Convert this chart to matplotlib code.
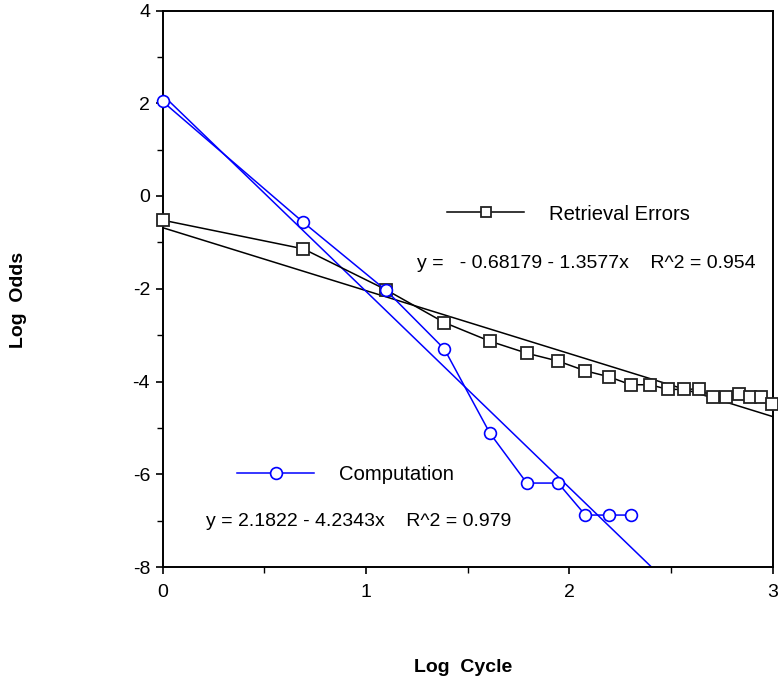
import numpy as np
import matplotlib
matplotlib.use("Agg")
import matplotlib.pyplot as plt

plt.rcParams['font.family'] = ['Liberation Sans', 'DejaVu Sans']
plt.rcParams['axes.unicode_minus'] = False

# Data (x = natural log of cycle number)
retrieval_cycles = list(range(1, 21))
retrieval_log_odds = [-0.52, -1.14, -2.02, -2.73, -3.13, -3.39, -3.56, -3.77, -3.90, -4.07,
                      -4.07, -4.17, -4.17, -4.16, -4.34, -4.34, -4.26, -4.34, -4.34, -4.49]
computation_cycles = list(range(1, 11))
computation_log_odds = [2.04, -0.57, -2.03, -3.30, -5.11, -6.19, -6.19, -6.88, -6.88, -6.88]

# Regression lines (intercept, slope)
retrieval_fit = (-0.68179, -1.3577)
computation_fit = (2.1822, -4.2343)

retrieval_label = "Retrieval Errors"
computation_label = "Computation"
retrieval_eq = "y =   - 0.68179 - 1.3577x    R^2 = 0.954"
computation_eq = "y = 2.1822 - 4.2343x    R^2 = 0.979"

fig = plt.figure(figsize=(7.78, 6.85), dpi=100)
W, H = 778, 685
L, R, T, B = 162.5, 772.5, 10.5, 567.0
ax = fig.add_axes([L / W, 1 - B / H, (R - L) / W, (B - T) / H])

xr = np.log(retrieval_cycles)
xc = np.log(computation_cycles)

# fit lines
xf = np.linspace(0, 3, 200)
ax.plot(xf, retrieval_fit[0] + retrieval_fit[1] * xf, color='black', lw=1.1, zorder=2)
ax.plot(xf, computation_fit[0] + computation_fit[1] * xf, color='#0000ff', lw=1.1, zorder=2)

# data lines
lr, = ax.plot(xr, retrieval_log_odds, color='black', lw=1.1, marker='s', markersize=9,
              markerfacecolor='white', markeredgecolor='#222222', markeredgewidth=1.3,
              clip_on=False, zorder=3)
lc, = ax.plot(xc, computation_log_odds, color='#0000ff', lw=1.1, marker='o', markersize=8.5,
              markerfacecolor='white', markeredgecolor='#0000ff', markeredgewidth=1.2,
              clip_on=False, zorder=4)

ax.set_xlim(0, 3)
ax.set_ylim(-8, 4)
ax.set_xticks([0, 1, 2, 3])
ax.set_xticks([0.5, 1.5, 2.5], minor=True)
ax.set_yticks([-8, -6, -4, -2, 0, 2, 4])
ax.set_yticks([-7, -5, -3, -1, 1, 3], minor=True)
ax.tick_params(which='major', direction='out', length=5, width=1.2, labelsize=14, pad=4)
ax.tick_params(axis='x', which='major', pad=7)
ax.tick_params(which='minor', direction='out', length=4, width=1.0)
for s in ax.spines.values():
    s.set_linewidth(1.4)

def px_to_ax(px, py):
    return ((px - L) / (R - L), (B - py) / (B - T))

leg1 = ax.legend(handles=[lr], labels=[retrieval_label], loc='center left',
                 bbox_to_anchor=px_to_ax(447, 214), frameon=False, fontsize=14.6,
                 handlelength=3.8, handletextpad=1.25, borderpad=0, borderaxespad=0,
                 markerscale=0.85)
ax.add_artist(leg1)
leg2 = ax.legend(handles=[lc], labels=[computation_label], loc='center left',
                 bbox_to_anchor=px_to_ax(237, 475), frameon=False, fontsize=14.6,
                 handlelength=3.8, handletextpad=1.25, borderpad=0, borderaxespad=0,
                 markerscale=1.0)

ax.text(*px_to_ax(417, 263), retrieval_eq, transform=ax.transAxes, fontsize=14,
        ha='left', va='center')
ax.text(*px_to_ax(206, 521), computation_eq, transform=ax.transAxes, fontsize=14,
        ha='left', va='center')

fig.text(19 / W, 1 - 300 / H, "Log  Odds", rotation=90, fontsize=14, fontweight='bold',
         ha='center', va='center')
fig.text(463 / W, 1 - 667 / H, "Log  Cycle", fontsize=14, fontweight='bold',
         ha='center', va='center')

fig.savefig("out.png", dpi=100)
